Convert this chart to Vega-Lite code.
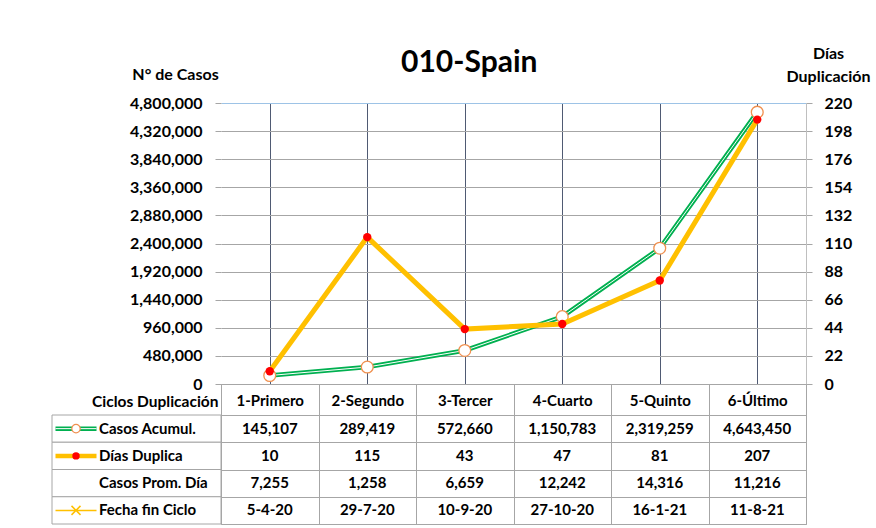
{
  "$schema": "https://vega.github.io/schema/vega-lite/v6.json",
  "padding": {"left": 46, "top": 45, "right": 0, "bottom": 5},
  "background": "white",
  "title": {"text": "010-Spain", "font": "Lato", "fontSize": 30, "fontWeight": "bold", "color": "#000000", "anchor": "middle", "dx": 11, "dy": 37},
  "config": {
    "view": {"stroke": null},
    "font": "Lato",
    "axis": {"labelFont": "Lato", "titleFont": "Lato", "labelFontWeight": "bold", "titleFontWeight": "bold", "labelColor": "#000000", "titleColor": "#000000"}
  },
  "datasets": {
    "ciclos": [
      {"ciclo": "1-Primero", "casos": 145107, "dias": 10, "prom": 7255, "fecha": "5-4-20"},
      {"ciclo": "2-Segundo", "casos": 289419, "dias": 115, "prom": 1258, "fecha": "29-7-20"},
      {"ciclo": "3-Tercer", "casos": 572660, "dias": 43, "prom": 6659, "fecha": "10-9-20"},
      {"ciclo": "4-Cuarto", "casos": 1150783, "dias": 47, "prom": 12242, "fecha": "27-10-20"},
      {"ciclo": "5-Quinto", "casos": 2319259, "dias": 81, "prom": 14316, "fecha": "16-1-21"},
      {"ciclo": "6-Último", "casos": 4643450, "dias": 207, "prom": 11216, "fecha": "11-8-21"}
    ],
    "filas": [
      {"fila": "Casos Acumul."},
      {"fila": "Días Duplica"},
      {"fila": "Casos Prom. Día"},
      {"fila": "Fecha fin Ciclo"}
    ]
  },
  "columns": 2,
  "spacing": 0,
  "bounds": "flush",
  "concat": [
    {
      "width": 169,
      "height": 281,
      "data": {"values": []},
      "mark": "point",
      "encoding": {}
    },
    {
      "width": 585,
      "height": 281,
      "data": {"name": "ciclos"},
      "encoding": {
        "x": {
          "field": "ciclo", "type": "nominal", "sort": null,
          "scale": {"paddingInner": 0, "paddingOuter": 0},
          "axis": {"orient": "bottom", "labels": false, "ticks": false, "domain": true, "domainColor": "#a6a6a6", "grid": true, "bandPosition": 0, "gridColor": "#4f5a73", "gridWidth": 1, "title": null}
        }
      },
      "layer": [
        {
          "encoding": {
            "y": {
              "field": "casos", "type": "quantitative",
              "scale": {"domain": [0, 4800000]},
              "axis": {
                "orient": "left",
                "values": [0, 480000, 960000, 1440000, 1920000, 2400000, 2880000, 3360000, 3840000, 4320000, 4800000],
                "format": ",.0f",
                "labelFontSize": 16, "labelPadding": 13,
                "tickSize": 6, "tickColor": "#a6a6a6",
                "domain": false,
                "grid": true,
                "gridColor": {"condition": {"test": "datum.value >= 4800000", "value": "#9dc3e6"}, "value": "#a6a6a6"},
                "title": "N° de Casos", "titleAngle": 0, "titleAlign": "center", "titleBaseline": "middle",
                "titleX": -46, "titleY": -29, "titleFontSize": 16
              }
            }
          },
          "layer": [
            {"mark": {"type": "line", "color": "#00b050", "strokeWidth": 4.5}},
            {"mark": {"type": "line", "color": "#ffffff", "strokeWidth": 1}},
            {"mark": {"type": "point", "filled": true, "fill": "#ffffff", "stroke": "#f0904f", "strokeWidth": 1.3, "size": 140, "opacity": 1}}
          ]
        },
        {
          "encoding": {
            "y": {
              "field": "dias", "type": "quantitative",
              "scale": {"domain": [0, 220]},
              "axis": {
                "orient": "right",
                "values": [0, 22, 44, 66, 88, 110, 132, 154, 176, 198, 220],
                "labelFontSize": 16, "labelPadding": 12,
                "tickSize": 6, "tickColor": "#a6a6a6",
                "domain": true, "domainColor": "#bfbfbf",
                "grid": false,
                "title": ["Días", "Duplicación"], "titleAngle": 0, "titleAlign": "center", "titleBaseline": "middle",
                "titleX": 22, "titleY": -50, "titleLineHeight": 23, "titleFontSize": 16
              }
            }
          },
          "layer": [
            {"mark": {"type": "line", "color": "#ffc000", "strokeWidth": 5}},
            {"mark": {"type": "point", "filled": true, "color": "#ff0000", "size": 70, "opacity": 1}}
          ]
        }
      ],
      "resolve": {"scale": {"y": "independent"}, "axis": {"y": "independent"}}
    },
    {
      "width": 169,
      "height": 140,
      "data": {"name": "filas"},
      "encoding": {
        "y": {
          "field": "fila", "type": "nominal", "sort": null,
          "scale": {"domain": ["Casos Acumul.", "Días Duplica", "Casos Prom. Día", "Fecha fin Ciclo"], "paddingInner": 0, "paddingOuter": 0.569, "align": 1},
          "axis": {"labels": false, "ticks": false, "domain": false, "grid": false, "minExtent": 0, "maxExtent": 0, "title": "Ciclos Duplicación", "titleAngle": 0, "titleAlign": "right", "titleBaseline": "middle", "titleX": 166, "titleY": 17, "titleFontSize": 15.5}
        }
      },
      "layer": [
        {"mark": {"type": "rect", "fill": "#ffffff", "stroke": "#a6a6a6", "strokeWidth": 1}},
        {
          "mark": {"type": "text", "align": "left", "baseline": "middle", "fontSize": 15, "fontWeight": "bold", "color": "#000000"},
          "encoding": {
            "x": {"datum": "etiqueta", "type": "nominal", "scale": {"type": "point", "domain": ["símbolo", "etiqueta"], "range": [24, 47], "padding": 0}, "axis": null},
            "text": {"field": "fila", "type": "nominal"}
          }
        },
        {
          "transform": [{"filter": "datum.fila === 'Casos Acumul.'"}],
          "mark": {"type": "point", "shape": "M-20.5,0H20.5", "size": 4, "filled": false, "stroke": "#00b050", "strokeWidth": 4.5, "opacity": 1},
          "encoding": {"x": {"datum": "símbolo", "type": "nominal"}}
        },
        {
          "transform": [{"filter": "datum.fila === 'Casos Acumul.'"}],
          "mark": {"type": "point", "shape": "M-20.5,0H20.5", "size": 4, "filled": false, "stroke": "#ffffff", "strokeWidth": 1, "opacity": 1},
          "encoding": {"x": {"datum": "símbolo", "type": "nominal"}}
        },
        {
          "transform": [{"filter": "datum.fila === 'Casos Acumul.'"}],
          "mark": {"type": "point", "shape": "circle", "size": 70, "filled": true, "fill": "#ffffff", "stroke": "#f0904f", "strokeWidth": 1.2, "opacity": 1},
          "encoding": {"x": {"datum": "símbolo", "type": "nominal"}}
        },
        {
          "transform": [{"filter": "datum.fila === 'Días Duplica'"}],
          "mark": {"type": "point", "shape": "M-20.5,0H20.5", "size": 4, "filled": false, "stroke": "#ffc000", "strokeWidth": 4.5, "opacity": 1},
          "encoding": {"x": {"datum": "símbolo", "type": "nominal"}}
        },
        {
          "transform": [{"filter": "datum.fila === 'Días Duplica'"}],
          "mark": {"type": "point", "shape": "circle", "size": 55, "filled": true, "color": "#ff0000", "opacity": 1},
          "encoding": {"x": {"datum": "símbolo", "type": "nominal"}}
        },
        {
          "transform": [{"filter": "datum.fila === 'Fecha fin Ciclo'"}],
          "mark": {"type": "point", "shape": "M-20.5,0H20.5M-4.5,-4.5L4.5,4.5M-4.5,4.5L4.5,-4.5", "size": 4, "filled": false, "stroke": "#ffc000", "strokeWidth": 1.5, "opacity": 1},
          "encoding": {"x": {"datum": "símbolo", "type": "nominal"}}
        }
      ]
    },
    {
      "width": 585,
      "height": 140,
      "view": {"stroke": "#a6a6a6"},
      "data": {"name": "ciclos"},
      "encoding": {
        "x": {
          "field": "ciclo", "type": "nominal", "sort": null,
          "scale": {"paddingInner": 0, "paddingOuter": 0},
          "axis": {"orient": "top", "ticks": false, "domain": false, "grid": true, "tickBand": "extent", "gridColor": "#a6a6a6", "labelPadding": -16, "labelBaseline": "middle", "labelFontSize": 15, "labelAngle": 0, "title": null}
        }
      },
      "layer": [
        {
          "mark": {"type": "text", "fontSize": 15, "fontWeight": "bold", "color": "#000000"},
          "encoding": {
            "y": {
              "datum": "Casos Acumul.", "type": "nominal",
              "scale": {"domain": ["Casos Acumul.", "Días Duplica", "Casos Prom. Día", "Fecha fin Ciclo"], "paddingInner": 0, "paddingOuter": 0.569, "align": 1},
              "axis": {"labels": false, "ticks": false, "domain": false, "grid": true, "tickBand": "extent", "gridColor": "#a6a6a6", "title": null}
            },
            "text": {"field": "casos", "type": "quantitative", "format": ","}
          }
        },
        {
          "mark": {"type": "text", "fontSize": 15, "fontWeight": "bold", "color": "#000000"},
          "encoding": {
            "y": {"datum": "Días Duplica", "type": "nominal"},
            "text": {"field": "dias", "type": "quantitative", "format": "d"}
          }
        },
        {
          "mark": {"type": "text", "fontSize": 15, "fontWeight": "bold", "color": "#000000"},
          "encoding": {
            "y": {"datum": "Casos Prom. Día", "type": "nominal"},
            "text": {"field": "prom", "type": "quantitative", "format": ","}
          }
        },
        {
          "mark": {"type": "text", "fontSize": 15, "fontWeight": "bold", "color": "#000000"},
          "encoding": {
            "y": {"datum": "Fecha fin Ciclo", "type": "nominal"},
            "text": {"field": "fecha", "type": "nominal"}
          }
        }
      ]
    }
  ]
}
